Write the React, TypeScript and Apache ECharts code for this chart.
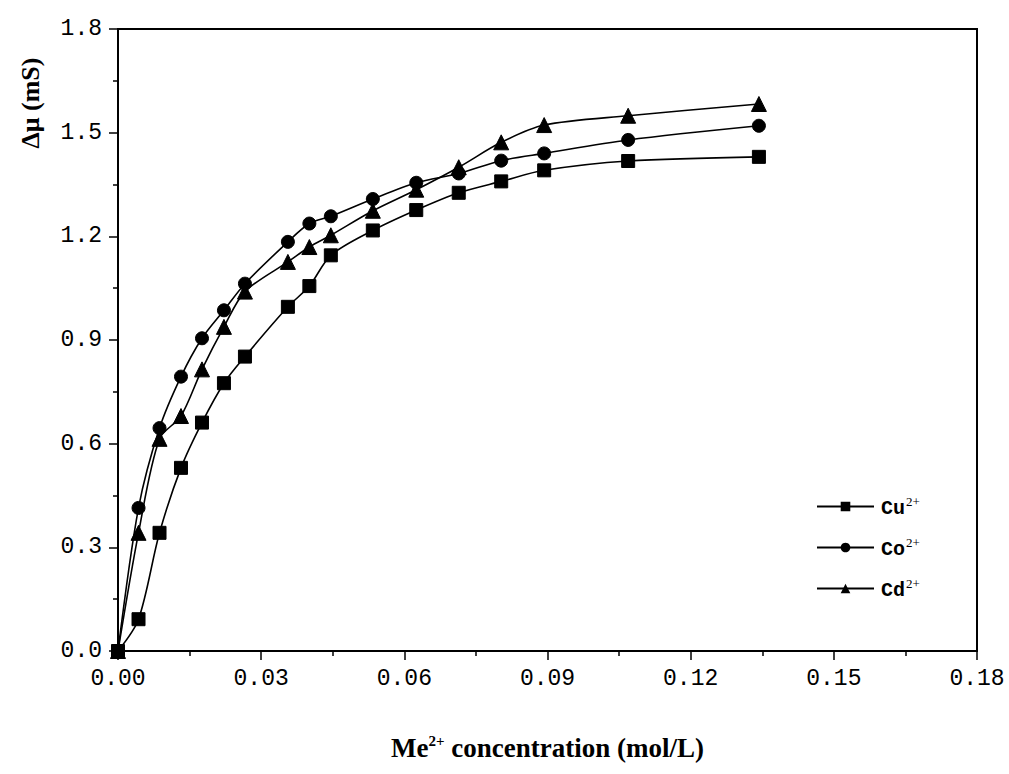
import React, { useEffect, useRef } from "react";
import * as echarts from "echarts";

// concentration (mol/L)
const xValues = [0, 0.0043, 0.0087, 0.0132, 0.0176, 0.0222, 0.0266, 0.0356, 0.0401, 0.0446, 0.0534, 0.0625, 0.0714, 0.0803, 0.0893, 0.1069, 0.1343];
// Δμ (mS)
const cuValues = [0, 0.092, 0.342, 0.530, 0.661, 0.775, 0.852, 0.996, 1.056, 1.145, 1.217, 1.276, 1.326, 1.359, 1.391, 1.418, 1.430];
const coValues = [0, 0.414, 0.645, 0.794, 0.905, 0.986, 1.063, 1.184, 1.237, 1.258, 1.308, 1.355, 1.382, 1.419, 1.440, 1.479, 1.520];
const cdValues = [0, 0.342, 0.614, 0.680, 0.815, 0.938, 1.040, 1.126, 1.169, 1.203, 1.274, 1.335, 1.400, 1.472, 1.522, 1.549, 1.583];

const seriesNames = ["Cu", "Co", "Cd"];
const seriesSymbols = ["rect", "circle", "triangle"];
const seriesSizes = [13, 13, 15];

const xTickLabels = ["0.00", "0.03", "0.06", "0.09", "0.12", "0.15", "0.18"];
const yTickLabels = ["0.0", "0.3", "0.6", "0.9", "1.2", "1.5", "1.8"];

const X_MIN = 0, X_MAX = 0.18, X_INT = 0.03;
const Y_MIN = 0, Y_MAX = 1.8, Y_INT = 0.3;

export default function App() {
  const ref = useRef<HTMLDivElement>(null);
  useEffect(() => {
    if (!ref.current) return;
    const chart = echarts.init(ref.current, null, { renderer: "svg" });
    const all = [cuValues, coValues, cdValues];
    const tickFont = "'Liberation Mono', monospace";
    chart.setOption({
      animation: false,
      backgroundColor: "#ffffff",
      grid: {
        left: 118,
        right: 32,
        top: 29,
        bottom: 123,
        show: true,
        borderColor: "#000",
        borderWidth: 2,
        backgroundColor: "transparent",
      },
      legend: {
        orient: "vertical",
        left: 811,
        top: 490,
        itemWidth: 57,
        itemHeight: 12,
        itemGap: 18,
        data: seriesNames,
        formatter: (name: string) => `{b|${name}}{s|2+}`,
        textStyle: {
          color: "#000",
          padding: [0, 0, 0, 2],
          rich: {
            b: { fontFamily: tickFont, fontWeight: "bold", fontSize: 20, color: "#000", lineHeight: 23, verticalAlign: "bottom" },
            s: { fontFamily: "'Liberation Serif', serif", fontSize: 13, color: "#000", lineHeight: 23, verticalAlign: "top", padding: [0, 0, 10, 1] },
          },
        },
      },
      xAxis: {
        type: "value",
        min: X_MIN,
        max: X_MAX,
        interval: X_INT,
        name: "{a|Me}{s|2+}{a| concentration (mol/L)}",
        nameLocation: "middle",
        nameGap: 82,
        nameTextStyle: {
          rich: {
            a: { fontFamily: "'Liberation Serif', serif", fontWeight: "bold", fontSize: 27, color: "#000", lineHeight: 30 },
            s: { fontFamily: "'Liberation Serif', serif", fontWeight: "bold", fontSize: 15, color: "#000", lineHeight: 30, verticalAlign: "top", padding: [0, 0, 8, 0] },
          },
        },
        axisLine: { show: true, lineStyle: { color: "#000", width: 2 } },
        axisTick: { show: true, length: 9, lineStyle: { color: "#000", width: 1.5 } },
        minorTick: { show: true, splitNumber: 2, length: 5, lineStyle: { color: "#000", width: 1.5 } },
        splitLine: { show: false },
        axisLabel: {
          margin: 16,
          fontFamily: tickFont,
          fontSize: 23,
          color: "#000",
          formatter: (v: number) => xTickLabels[Math.round(v / X_INT)] ?? "",
        },
      },
      yAxis: {
        type: "value",
        min: Y_MIN,
        max: Y_MAX,
        interval: Y_INT,
        axisLine: { show: true, lineStyle: { color: "#000", width: 2 } },
        axisTick: { show: true, length: 9, lineStyle: { color: "#000", width: 1.5 } },
        minorTick: { show: true, splitNumber: 2, length: 5, lineStyle: { color: "#000", width: 1.5 } },
        splitLine: { show: false },
        axisLabel: {
          margin: 16,
          fontFamily: tickFont,
          fontSize: 23,
          color: "#000",
          formatter: (v: number) => yTickLabels[Math.round(v / Y_INT)] ?? "",
        },
      },
      graphic: [
        {
          type: "text",
          x: 30,
          y: 103,
          rotation: Math.PI / 2,
          style: {
            text: "Δμ (mS)",
            fontFamily: "'Liberation Serif', serif",
            fontWeight: "bold",
            fontSize: 26,
            fill: "#000",
            align: "center",
            verticalAlign: "middle",
          },
        },
      ],
      series: seriesNames.map((name, si) => ({
        name,
        type: "line",
        smooth: 0.3,
        symbol: seriesSymbols[si],
        symbolSize: seriesSizes[si],
        showAllSymbol: true,
        lineStyle: { color: "#000", width: 1.6 },
        itemStyle: { color: "#000", borderColor: "#000" },
        data: xValues.map((x, i) => [x, all[si][i]]),
      })),
    });
    return () => chart.dispose();
  }, []);
  return (
    <div
      ref={ref}
      style={{ position: "absolute", left: 0, top: 0, width: 1009, height: 774, background: "#fff" }}
    />
  );
}
